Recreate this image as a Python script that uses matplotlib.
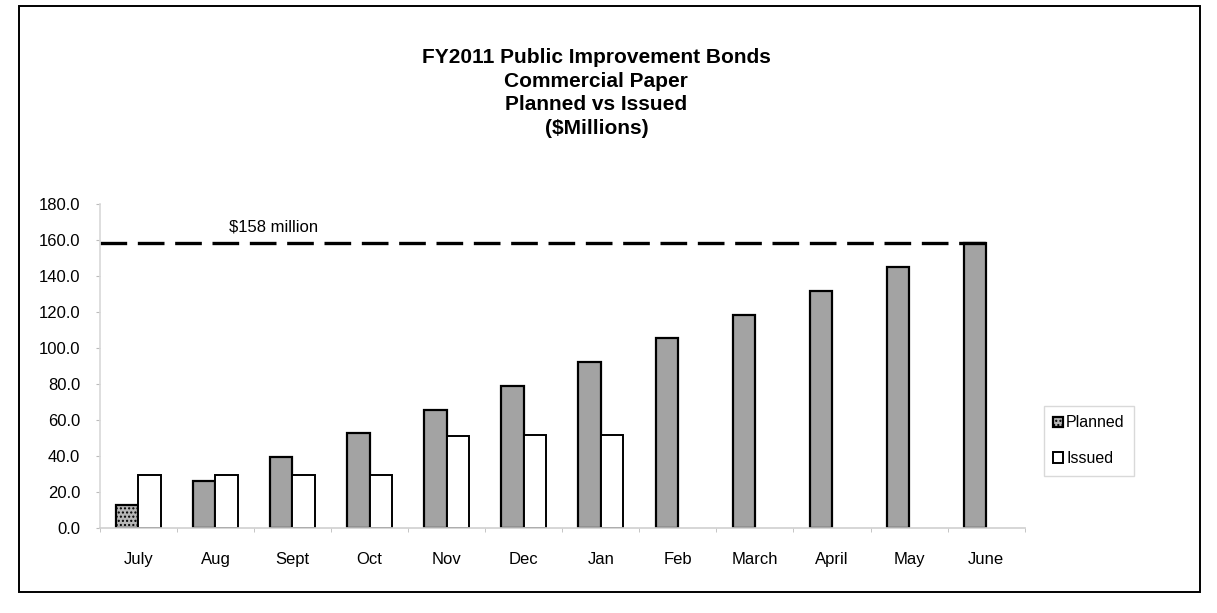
import matplotlib.pyplot as plt
import numpy as np
from matplotlib.patches import Rectangle

months = ["July", "Aug", "Sept", "Oct", "Nov", "Dec", "Jan", "Feb", "March", "April", "May", "June"]
planned = [13.2, 26.3, 39.5, 52.7, 65.8, 79.0, 92.2, 105.3, 118.5, 131.7, 144.8, 158.0]
issued = [29.7, 29.7, 29.6, 29.6, 51.0, 51.9, 51.9]
target = 158.0

plt.rcParams['font.family'] = ['Liberation Sans', 'DejaVu Sans']

fig = plt.figure(figsize=(12.17, 6.13), dpi=100)
ax = fig.add_axes([0.082, 0.138, 0.76, 0.53])

x = np.arange(len(months))
w = 0.29
gray = "#a3a3a3"

bars = ax.bar(x - w / 2, planned, w, color=gray, edgecolor="black", linewidth=1.6, label="Planned")
# first bar is stippled in the scan
bars[0].set_hatch("....")
bars[0].set_facecolor("#b8b8b8")
ax.bar(x[:len(issued)] + w / 2, issued, w, color="white", edgecolor="black", linewidth=1.4, label="Issued")

# target line
ax.plot([-0.5, x[-1]], [target, target], color="black", lw=2.4, dashes=(8, 3.2))
ax.text(1.75, target + 5, "$158 million", fontsize=12, ha="center", va="bottom")

ax.set_xlim(-0.5, len(months) - 0.5)
ax.set_ylim(0, 180)
ax.set_yticks(np.arange(0, 181, 20))
ax.set_yticklabels([f"{v:.1f}" for v in np.arange(0, 181, 20)], fontsize=12)
ax.set_xticks(x)
ax.set_xticklabels(months, fontsize=12)
ax.set_xticks(np.arange(-0.5, len(months), 1), minor=True)

for s in ["top", "right"]:
    ax.spines[s].set_visible(False)
ax.spines["left"].set_color("#d8d8d8")
ax.spines["bottom"].set_color("#cfcfcf")
ax.spines["left"].set_linewidth(1.2)
ax.spines["bottom"].set_linewidth(1.2)
ax.tick_params(axis="y", length=3, color="#bbbbbb", pad=11)
ax.tick_params(axis="x", which="major", length=0, pad=17)
ax.tick_params(axis="x", which="minor", length=3, color="#bbbbbb")

leg = ax.legend(loc="center left", bbox_to_anchor=(1.012, 0.27), fontsize=11.5, frameon=True,
                fancybox=False, handlelength=0.6, handleheight=0.6, handletextpad=0.2,
                labelspacing=1.3, borderpad=0.6)
leg.get_frame().set_edgecolor("#d0d0d0")
leg.get_frame().set_linewidth(1.0)

fig.text(0.49, 0.848, "FY2011 Public Improvement Bonds\nCommercial Paper\nPlanned vs Issued\n($Millions)",
         ha="center", va="center", fontsize=15, fontweight="bold", linespacing=1.3)

# page frame
fig.patches.append(Rectangle((0.016, 0.035), 0.97, 0.955, transform=fig.transFigure,
                             fill=False, edgecolor="black", linewidth=1.4))

fig.savefig("out.png", dpi=100)
